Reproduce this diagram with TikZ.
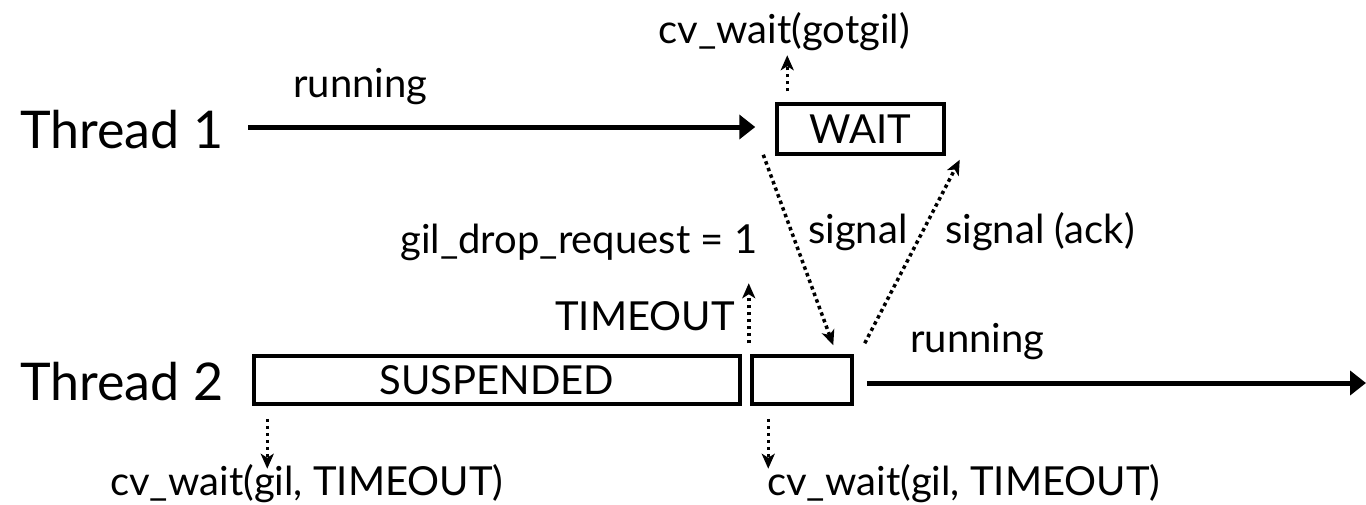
\documentclass[tikz,border=0pt]{standalone}
\usepackage{fontspec}
\setmainfont{Lato}
\usetikzlibrary{arrows.meta,calc}
\tikzset{
  biglabel/.style={font=\fontsize{52}{58}\selectfont, inner sep=0pt},
  midlabel/.style={font=\fontsize{40}{46}\selectfont, inner sep=0pt},
  statebox/.style={draw, line width=3.5pt, inner sep=0pt, midlabel},
  flow/.style={line width=5pt, -{Triangle[length=16pt,width=24pt]}},
  event/.style={line width=3.5pt, dash pattern=on 3.5pt off 3.5pt,
                -{Stealth[length=15pt,width=13pt,inset=4pt]}}
}
\begin{document}
\begin{tikzpicture}[x=1pt,y=-1pt]
\useasboundingbox[fill=white] (0,0) rectangle (1366,504);

% thread names
\node[biglabel, anchor=base west] (t1) at (20,148) {Thread 1};
\node[biglabel, anchor=base west] (t2) at (20,400) {Thread 2};

% state boxes
\node[statebox, minimum width=167pt, minimum height=50pt] (wait) at (860.5,129) {WAIT};
\node[statebox, minimum width=486pt, minimum height=48pt] (susp) at (497,380) {SUSPENDED};
\node[statebox, minimum width=100pt, minimum height=48pt] (small) at (802,380) {};

% labels
\node[midlabel, anchor=base west] (run1) at (293,97) {running};
\node[midlabel, anchor=base east] (gotgil) at (910,43) {cv\_wait(gotgil)};
\node[midlabel, anchor=base west] (drop) at (400,253) {gil\_drop\_request = 1};
\node[midlabel, anchor=base west] (sig) at (808,243) {signal};
\node[midlabel, anchor=base west] (ack) at (945,243) {signal (ack)};
\node[midlabel, anchor=base east] (tmo) at (735,330) {TIMEOUT};
\node[midlabel, anchor=base west] (run2) at (910,352) {running};
\node[midlabel, anchor=base west] (cvl) at (110,495) {cv\_wait(gil, TIMEOUT)};
\node[midlabel, anchor=base west] (cvr) at (767,495) {cv\_wait(gil, TIMEOUT)};

% timelines
\coordinate (t1s) at (248,127);
\coordinate (t2e) at (1366,383);
\draw[flow] (t1s) -- ($(wait.west)+(-20,-2)$);
\draw[flow] ($(small.east)+(13,3)$) -- (t2e);

% events
\draw[event] ($(wait.north west)+(12,-11)$) -- ($(wait.north west)+(12,-47)$);
\draw[event] ($(wait.south west)+(-12,-1)$) -- ($(small.north west)+(83,-9)$);
\draw[event] ($(small.north east)+(11,-11)$) -- ($(wait.south east)+(14,4)$);
\draw[event] ($(susp.north east)+(7,-11)$) -- ($(susp.north east)+(7,-71)$);
\draw[event] ($(susp.south west)+(15,13)$) -- ($(susp.south west)+(15,63)$);
\draw[event] ($(small.south west)+(18,13)$) -- ($(small.south west)+(18,63)$);
\end{tikzpicture}
\end{document}
